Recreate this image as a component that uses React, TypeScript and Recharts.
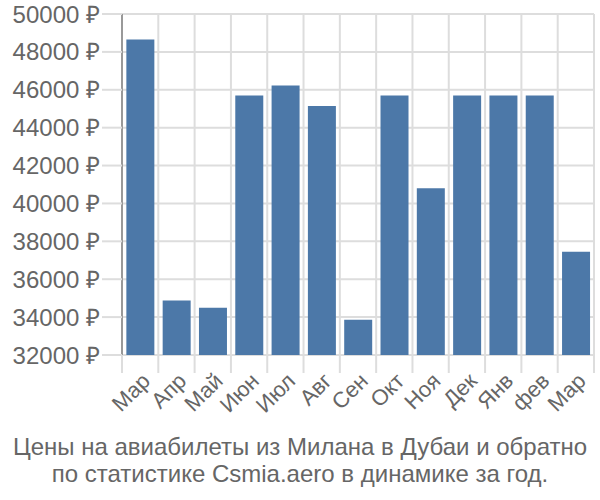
import React from "react";
import { BarChart, Bar, XAxis, YAxis, CartesianGrid } from "recharts";

const months = ["Мар", "Апр", "Май", "Июн", "Июл", "Авг", "Сен", "Окт", "Ноя", "Дек", "Янв", "фев", "Мар"];
const prices = [48650, 34880, 34500, 45700, 46230, 45150, 33860, 45700, 40800, 45700, 45700, 45700, 37450];
const yTicks = [32000, 34000, 36000, 38000, 40000, 42000, 44000, 46000, 48000, 50000];
const titleLines = ["Цены на авиабилеты из Милана в Дубаи и обратно", "по статистике Csmia.aero в динамике за год."];

const data = months.map((m, i) => ({ key: `${m}-${i}`, label: m, value: prices[i] }));

const FONT = "'Liberation Sans', Arial, sans-serif";

const XTick = (props: any) => {
  const { x, y, payload, index } = props;
  const off = payload && payload.offset ? payload.offset : 0;
  const label = months[index] ?? "";
  const ax = x;
  const ay = y + 16;
  return (
    <g>
      <line x1={x - off} x2={x - off} y1={y} y2={y + 18} stroke="#dddddd" strokeWidth={2} />
      {index === months.length - 1 ? (
        <line x1={x + off} x2={x + off} y1={y} y2={y + 18} stroke="#dddddd" strokeWidth={2} />
      ) : null}
      <text
        x={ax}
        y={ay}
        transform={`rotate(-45, ${ax}, ${ay})`}
        textAnchor="end"
        dominantBaseline="hanging"
        fontSize={22}
        fontFamily={FONT}
        fill="#666666"
      >
        {label}
      </text>
    </g>
  );
};

export default function App() {
  return (
    <div style={{ position: "absolute", left: 0, top: 0, width: 600, height: 500, background: "#fff" }}>
      <BarChart
        width={600}
        height={430}
        data={data}
        margin={{ top: 14, right: 6, left: 0, bottom: 0 }}
        barCategoryGap="12%"
      >
        <CartesianGrid
          stroke="#dddddd"
          strokeWidth={2}
          verticalCoordinatesGenerator={({ offset }: any) => {
            const n = months.length;
            const out: number[] = [];
            for (let i = 0; i <= n; i++) out.push(offset.left + (offset.width * i) / n);
            return out;
          }}
        />
        <XAxis
          dataKey="key"
          height={75}
          interval={0}
          tickLine={false}
          tickSize={0}
          tickMargin={0}
          axisLine={false}
          tick={<XTick />}
        />
        <YAxis
          width={122}
          domain={[32000, 50000]}
          ticks={yTicks}
          interval={0}
          tickFormatter={(v: number) => `${v} ₽`}
          tick={{ fontSize: 24, fill: "#666666", fontFamily: FONT }}
          tickLine={{ stroke: "#dddddd", strokeWidth: 2 }}
          tickSize={20}
          tickMargin={2}
          axisLine={{ stroke: "#999999", strokeWidth: 2 }}
          allowDataOverflow
        />
        <Bar dataKey="value" fill="#4c78a8" isAnimationActive={false} />
      </BarChart>
      <div
        style={{
          position: "absolute",
          left: 0,
          top: 433,
          width: 600,
          textAlign: "center",
          fontFamily: FONT,
          fontSize: 24,
          lineHeight: "27px",
          color: "#666666",
        }}
      >
        {titleLines.map((t, i) => (
          <div key={i}>{t}</div>
        ))}
      </div>
    </div>
  );
}
